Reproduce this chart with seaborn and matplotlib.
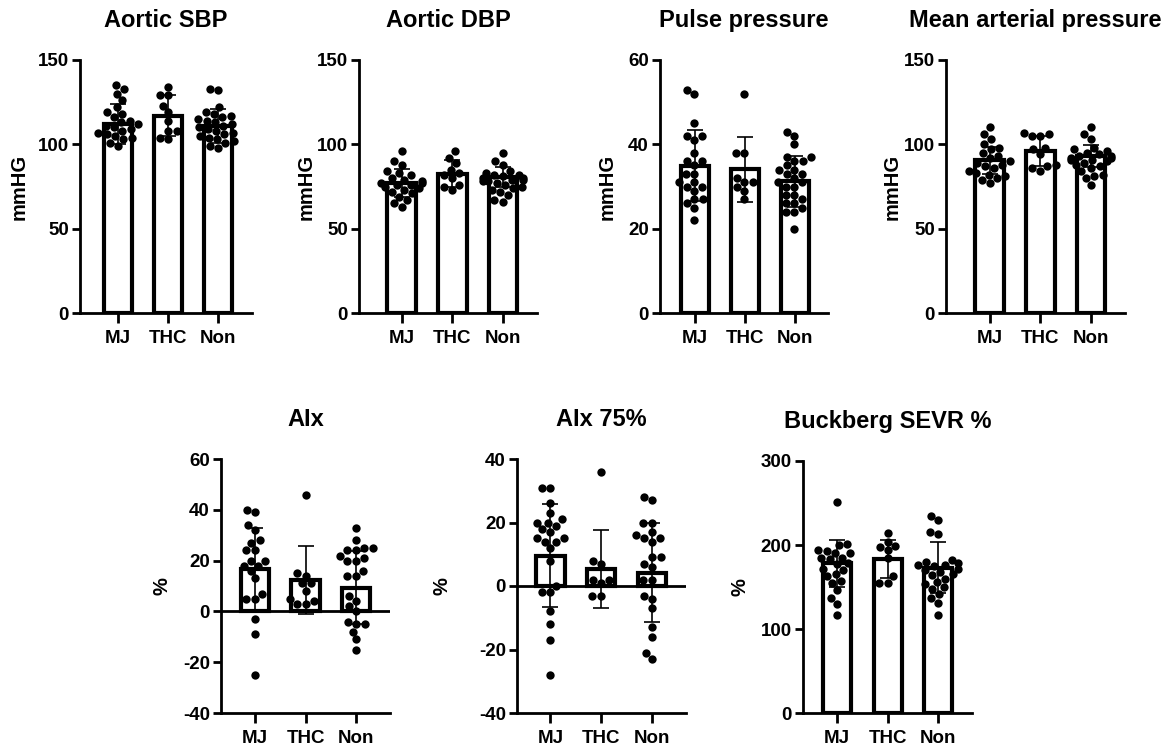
import numpy as np
import pandas as pd
import matplotlib
matplotlib.use('Agg')
import matplotlib.pyplot as plt
import seaborn as sns

groups = ['MJ', 'THC', 'Non']

# Aortic SBP
sbp_mj = [135, 133, 130, 126, 122, 119, 118, 116, 114, 113, 112, 111, 110, 109, 108, 107, 106, 105, 104, 103, 101, 99]
sbp_thc = [134, 129, 129, 123, 119, 114, 108, 108, 104, 103]
sbp_non = [133, 132, 122, 119, 118, 117, 116, 115, 114, 113, 112, 111, 110, 109, 108, 107, 106, 105, 104, 103, 102, 101, 99, 98]
sbp_mean = [112, 117, 111]
sbp_sd = [12, 12, 10]

# Aortic DBP
dbp_mj = [96, 90, 88, 84, 83, 82, 80, 79, 78, 77, 77, 76, 76, 75, 74, 73, 72, 71, 69, 67, 65, 63]
dbp_thc = [96, 92, 89, 85, 83, 82, 80, 76, 75, 73]
dbp_non = [95, 90, 88, 84, 83, 82, 82, 81, 80, 80, 79, 79, 78, 78, 77, 76, 75, 74, 73, 72, 70, 67, 66]
dbp_mean = [77, 82.5, 80.5]
dbp_sd = [8.5, 8, 6]

# Pulse pressure
pp_mj = [53, 52, 45, 42, 42, 41, 38, 36, 36, 35, 33, 33, 31, 31, 30, 30, 29, 27, 27, 26, 25, 22]
pp_thc = [52, 38, 38, 32, 31, 31, 30, 29, 27]
pp_non = [43, 42, 40, 37, 37, 36, 36, 35, 34, 34, 33, 33, 32, 31, 31, 30, 30, 28, 28, 27, 26, 26, 25, 24, 24, 20]
pp_mean = [34.9, 34.1, 31.2]
pp_sd = [8.4, 7.7, 6.1]

# Mean arterial pressure
map_mj = [110, 106, 103, 100, 98, 97, 95, 93, 92, 90, 89, 88, 87, 86, 84, 83, 82, 81, 80, 79, 77]
map_thc = [107, 106, 105, 105, 98, 97, 94, 88, 87, 86, 84]
map_non = [110, 106, 103, 98, 97, 96, 95, 94, 93, 93, 92, 92, 91, 91, 90, 89, 88, 87, 86, 84, 82, 81, 80, 76]
map_mean = [90.5, 96, 93]
map_sd = [8, 9, 6.5]

# AIx
aix_mj = [40, 39, 34, 32, 28, 27, 24, 24, 20, 20, 18, 18, 16, 13, 7, 5, 5, -3, -9, -25]
aix_thc = [46, 15, 14, 11, 11, 8, 5, 4, 3, 3]
aix_non = [33, 28, 25, 25, 24, 24, 22, 21, 20, 20, 16, 14, 14, 6, 4, 2, 0, -4, -5, -5, -8, -11, -15]
aix_mean = [16.6, 12.3, 9.3]
aix_sd = [16.4, 13.5, 14.3]

# AIx 75%
aix75_mj = [31, 31, 26, 23, 21, 20, 20, 19, 18, 17, 15, 15, 14, 14, 12, 8, 0, -2, -2, -8, -12, -17, -28]
aix75_thc = [36, 8, 7, 2, 2, 1, -3, -3]
aix75_non = [28, 27, 20, 20, 17, 16, 15, 15, 14, 9, 9, 7, 6, 2, 2, -3, -4, -7, -13, -16, -21, -23]
aix75_mean = [9.5, 5.3, 4.2]
aix75_sd = [16.2, 12.3, 15.5]

# Buckberg SEVR %
sevr_mj = [251, 201, 200, 194, 193, 191, 190, 185, 184, 183, 178, 177, 172, 170, 165, 163, 157, 155, 147, 137, 130, 117]
sevr_thc = [214, 204, 199, 198, 194, 184, 163, 155, 155]
sevr_non = [235, 230, 216, 213, 182, 180, 178, 176, 176, 175, 172, 170, 168, 165, 164, 160, 156, 154, 150, 148, 142, 137, 131, 117]
sevr_mean = [178, 183, 173]
sevr_sd = [28.5, 22.5, 30]

# panel settings: title, ylabel, yticks, points, mean, sd
panels = [
    ('Aortic SBP', 'mmHG', [0, 50, 100, 150], (sbp_mj, sbp_thc, sbp_non), sbp_mean, sbp_sd),
    ('Aortic DBP', 'mmHG', [0, 50, 100, 150], (dbp_mj, dbp_thc, dbp_non), dbp_mean, dbp_sd),
    ('Pulse pressure', 'mmHG', [0, 20, 40, 60], (pp_mj, pp_thc, pp_non), pp_mean, pp_sd),
    ('Mean arterial pressure', 'mmHG', [0, 50, 100, 150], (map_mj, map_thc, map_non), map_mean, map_sd),
    ('AIx', '%', [-40, -20, 0, 20, 40, 60], (aix_mj, aix_thc, aix_non), aix_mean, aix_sd),
    ('AIx 75%', '%', [-40, -20, 0, 20, 40], (aix75_mj, aix75_thc, aix75_non), aix75_mean, aix75_sd),
    ('Buckberg SEVR %', '%', [0, 100, 200, 300], (sevr_mj, sevr_thc, sevr_non), sevr_mean, sevr_sd),
]

# layout in pixels: left, top, right, bottom, x-limit left, ylabel anchor x
boxes = [
    (80, 60, 252, 313, -0.76, 29),
    (359, 60, 537, 313, -0.84, 316),
    (660, 60, 828, 313, -0.69, 617),
    (946, 60, 1125, 313, -0.86, 902),
    (221, 459, 390, 713, -0.67, 172),
    (517, 459, 686, 713, -0.66, 452),
    (803, 461, 972, 713, -0.68, 750),
]

sns.set_style('ticks')
plt.rcParams['font.family'] = ['Liberation Sans', 'DejaVu Sans']
plt.rcParams['font.weight'] = 'bold'
plt.rcParams['axes.unicode_minus'] = False
for key in ['text.color', 'axes.labelcolor', 'xtick.color', 'ytick.color', 'axes.edgecolor']:
    plt.rcParams[key] = 'black'

W, H = 1174, 750
fig = plt.figure(figsize=(W / 100, H / 100), dpi=100)

for (title, ylab, yticks, pts, mean, sd), (l, t, r, b, xl, labx) in zip(panels, boxes):
    ax = fig.add_axes([l / W, 1 - b / H, (r - l) / W, (b - t) / H])
    df = pd.DataFrame({'group': np.repeat(groups, [len(p) for p in pts]),
                       'value': np.concatenate(pts)})

    sns.barplot(x=groups, y=mean, order=groups, color='white', edgecolor='black',
                linewidth=3, width=0.56, saturation=1, errorbar=None, ax=ax, zorder=1)
    ax.errorbar(x=[0, 1, 2], y=mean, yerr=sd, fmt='none', ecolor='black',
                elinewidth=1.2, capsize=6, capthick=1.2, zorder=2)
    sns.swarmplot(data=df, x='group', y='value', order=groups, color='black',
                  size=6, ax=ax, zorder=3)

    ax.set_ylim(yticks[0], yticks[-1])
    ax.set_yticks(yticks)
    ax.set_xlim(xl, 2.67)
    if yticks[0] < 0:
        ax.axhline(0, color='black', linewidth=2, zorder=4)

    sns.despine(ax=ax)
    for s in ['left', 'bottom']:
        ax.spines[s].set_linewidth(2)
    ax.tick_params(axis='y', length=6, width=2, pad=2, labelsize=13.5)
    ax.tick_params(axis='x', length=7, width=2, pad=5, labelsize=13.5)
    for lbl in ax.get_xticklabels() + ax.get_yticklabels():
        lbl.set_fontweight('bold')

    ax.set_xlabel('')
    ax.set_ylabel(ylab, fontsize=14.5, fontweight='bold')
    ax.yaxis.set_label_coords((labx - l) / (r - l), 0.5)
    ax.set_title(title, fontsize=17, fontweight='bold', pad=24)

fig.savefig('out.png', dpi=100)
